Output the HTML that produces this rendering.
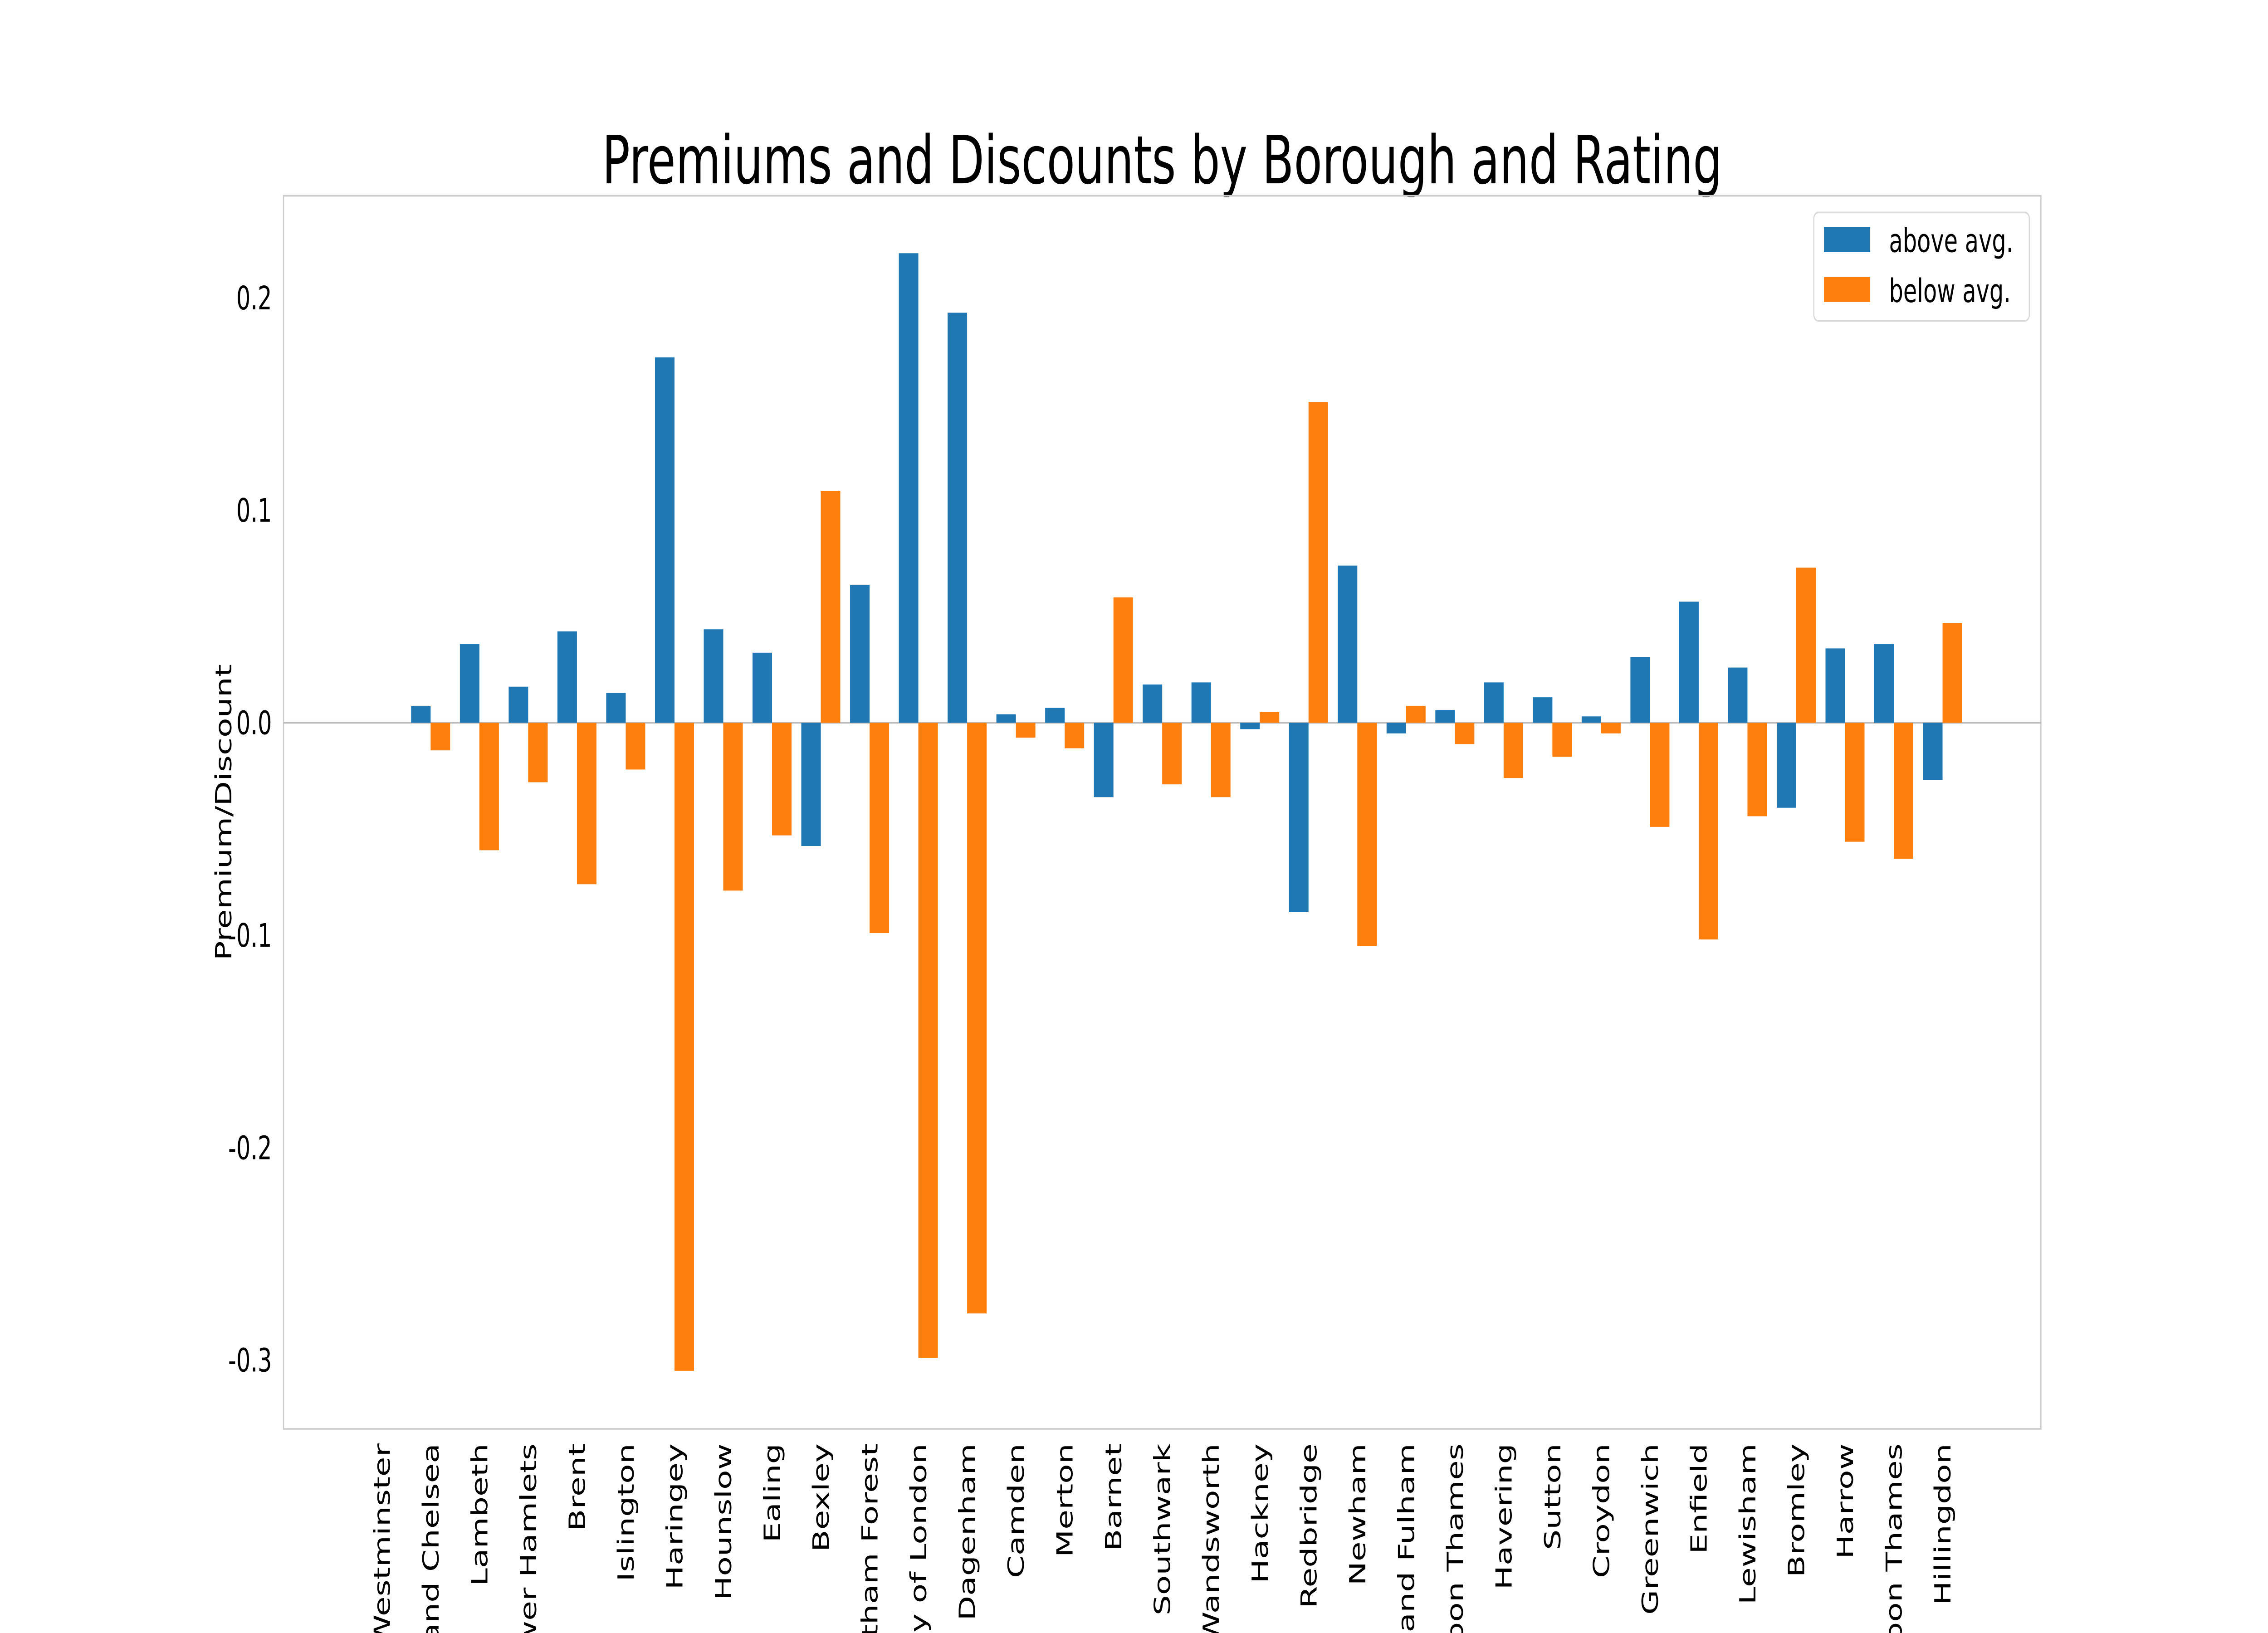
<!DOCTYPE html>
<html><head><meta charset="utf-8"><style>
html,body{margin:0;padding:0;background:#fff;overflow:hidden;width:100vw;height:100vh;}
svg{display:block;width:100vw;height:100vh;font-family:"DejaVu Sans","Liberation Sans",sans-serif;}
</style></head><body>
<svg id="chart" viewBox="0 0 1568 784" preserveAspectRatio="none" xmlns="http://www.w3.org/2000/svg">
<rect width="1568" height="784" fill="#fff"/>
<text x="803.5" y="88" text-anchor="middle" font-size="32">Premiums and Discounts by Borough and Rating</text>
<g id="plot"></g>
<text transform="translate(160,390) rotate(-90)" text-anchor="middle" font-size="15.5">Premium/Discount</text>
<g>
<rect x="1254" y="102" width="149" height="52" rx="3" fill="#fff" stroke="#d9d9d9" stroke-width="0.8"/>
<rect x="1261" y="109" width="32" height="12" fill="#1f77b4"/>
<text x="1306" y="121" font-size="15.5">above avg.</text>
<rect x="1261" y="133" width="32" height="12" fill="#ff7f0e"/>
<text x="1306" y="145" font-size="15.5">below avg.</text>
</g>
</svg>
<script>
const categories = ["Westminster","Kensington and Chelsea","Lambeth","Tower Hamlets","Brent","Islington","Haringey","Hounslow","Ealing","Bexley","Waltham Forest","City of London","Barking and Dagenham","Camden","Merton","Barnet","Southwark","Wandsworth","Hackney","Redbridge","Newham","Hammersmith and Fulham","Kingston upon Thames","Havering","Sutton","Croydon","Greenwich","Enfield","Lewisham","Bromley","Harrow","Richmond upon Thames","Hillingdon"];
const aboveAvg = [0,0.008,0.037,0.017,0.043,0.014,0.172,0.044,0.033,-0.058,0.065,0.221,0.193,0.004,0.007,-0.035,0.018,0.019,-0.003,-0.089,0.074,-0.005,0.006,0.019,0.012,0.003,0.031,0.057,0.026,-0.040,0.035,0.037,-0.027];
const belowAvg = [0,-0.013,-0.060,-0.028,-0.076,-0.022,-0.305,-0.079,-0.053,0.109,-0.099,-0.299,-0.278,-0.007,-0.012,0.059,-0.029,-0.035,0.005,0.151,-0.105,0.008,-0.010,-0.026,-0.016,-0.005,-0.049,-0.102,-0.044,0.073,-0.056,-0.064,0.047];
const yTicks = [0.2,0.1,0.0,-0.1,-0.2,-0.3];
const yTickLabels = ["0.2","0.1","0.0","-0.1","-0.2","-0.3"];

const NS="http://www.w3.org/2000/svg";
const L=196,R=1411,T=94,B=686;
const x0=264, step=(1343-264)/32, bw=step*0.4;
const xc=i=>x0+i*step;
const y=v=>347-v*1020;
const plot=document.getElementById('plot');
function mk(tag,attrs){const e=document.createElementNS(NS,tag);for(const k in attrs)e.setAttribute(k,attrs[k]);plot.appendChild(e);return e;}

const frame=mk('rect',{x:L,y:T,width:R-L,height:B-T,fill:'none',stroke:'#cccccc','stroke-width':0.8});


const zl=mk('line',{x1:L,x2:R,y1:y(0),y2:y(0),stroke:'#bbbbbb','stroke-width':0.8});



yTicks.forEach((v,i)=>{
  const t=mk('text',{x:188,y:y(v)+5.5,'text-anchor':'end','font-size':15.5});
  t.textContent=yTickLabels[i];
  
  
});

categories.forEach((c,i)=>{
  const a=aboveAvg[i], b=belowAvg[i];
  const r1=mk('rect',{x:xc(i)-bw,y:Math.min(y(a),y(0)),width:bw,height:Math.abs(y(a)-y(0)),fill:'#1f77b4'});
  
  
  const r2=mk('rect',{x:xc(i),y:Math.min(y(b),y(0)),width:bw,height:Math.abs(y(b)-y(0)),fill:'#ff7f0e'});
  
  
  const t=mk('text',{transform:`translate(${xc(i)+5.5},693) rotate(-90)`,'text-anchor':'end','font-size':15.5});
  t.textContent=c;
  
  
});
</script>
</body></html>
